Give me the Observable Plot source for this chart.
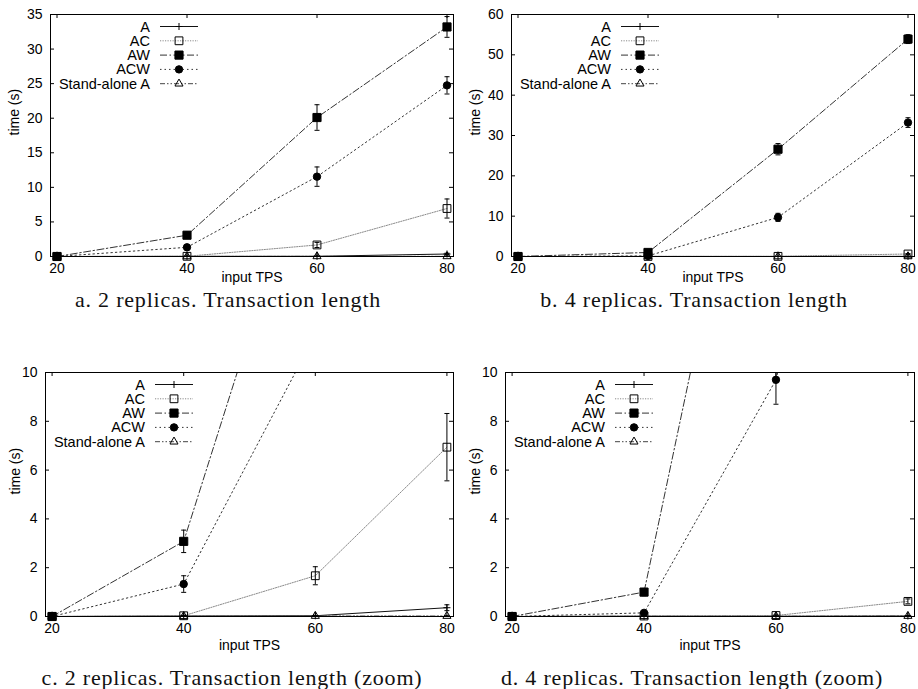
<!DOCTYPE html>
<html>
<head>
<meta charset="utf-8">
<script src="https://cdn.jsdelivr.net/npm/d3@7"></script>
<script src="https://cdn.jsdelivr.net/npm/@observablehq/plot@0.6"></script>
<style>
  body { margin: 0; background: #fff; }
  #fig { position: relative; width: 918px; height: 689px; overflow: hidden; }
  .panel { position: absolute; }
  .caption {
    position: absolute; font-family: "Liberation Serif", "Times New Roman", serif;
    font-size: 22px; line-height: 1; letter-spacing: 0.8px; white-space: nowrap;
    transform: translate(-50%, -50%); color: #111;
  }
</style>
</head>
<body>
<div id="fig"></div>
<script>
// Input load (transactions per second)
const tps = [20, 40, 60, 80];
const seriesNames = ["A", "AC", "AW", "ACW", "Stand-alone A"];

// Response time (s), 2 replicas: means and error half-widths
const rep2_A      = [0, 0.02, 0.03, 0.36];
const rep2_A_err  = [0, 0.01, 0.01, 0.12];
const rep2_AC     = [0, 0.03, 1.67, 6.94];
const rep2_AC_err = [0, 0.02, 0.37, 1.38];
const rep2_AW     = [0, 3.08, 20.1, 33.2];
const rep2_AW_err = [0.02, 0.46, 1.85, 1.5];
const rep2_ACW    = [0, 1.33, 11.55, 24.75];
const rep2_ACW_err = [0.01, 0.34, 1.4, 1.25];
const rep2_SA     = [0, 0.01, 0.02, 0.02];
const rep2_SA_err = [0, 0, 0.01, 0.01];

// Response time (s), 4 replicas
const rep4_A      = [0, 0.01, 0.01, 0.02];
const rep4_A_err  = [0, 0, 0, 0.01];
const rep4_AC     = [0, 0.02, 0.04, 0.62];
const rep4_AC_err = [0, 0.01, 0.02, 0.1];
const rep4_AW     = [0, 1.0, 26.6, 53.9];
const rep4_AW_err = [0.01, 0.15, 1.4, 1.1];
const rep4_ACW    = [0, 0.15, 9.7, 33.2];
const rep4_ACW_err = [0, 0.05, 1.0, 1.2];
const rep4_SA     = [0, 0.01, 0.01, 0.02];
const rep4_SA_err = [0, 0, 0, 0.01];

// Axis ticks
const xTicks = [20, 40, 60, 80];
const yTicks35 = [0, 5, 10, 15, 20, 25, 30, 35];
const yTicks60 = [0, 10, 20, 30, 40, 50, 60];
const yTicks10 = [0, 2, 4, 6, 8, 10];

const captions = [
  "a. 2 replicas. Transaction length",
  "b. 4 replicas. Transaction length",
  "c. 2 replicas. Transaction length (zoom)",
  "d. 4 replicas. Transaction length (zoom)"
];

function rows(means, errs) {
  const out = [];
  seriesNames.forEach((s, i) => {
    tps.forEach((x, j) => out.push({series: s, tps: x, time: means[i][j], err: errs[i][j]}));
  });
  return out;
}
const rep2 = rows([rep2_A, rep2_AC, rep2_AW, rep2_ACW, rep2_SA],
                  [rep2_A_err, rep2_AC_err, rep2_AW_err, rep2_ACW_err, rep2_SA_err]);
const rep4 = rows([rep4_A, rep4_AC, rep4_AW, rep4_ACW, rep4_SA],
                  [rep4_A_err, rep4_AC_err, rep4_AW_err, rep4_ACW_err, rep4_SA_err]);

// Line and point styles for each series
const styles = {
  "A":             {stroke: "#111", dash: null,               symbol: "plus",     fill: "none", r: 2.4},
  "AC":            {stroke: "#8a8a8a", dash: "1.2,1.3",       symbol: "square",   fill: "none", r: 4.4},
  "AW":            {stroke: "#333", dash: "7,2.5,1.5,2.5",    symbol: "square",   fill: "#000", r: 4.6},
  "ACW":           {stroke: "#333", dash: "1.5,3",            symbol: "circle",   fill: "#000", r: 3.7},
  "Stand-alone A": {stroke: "#444", dash: "5,2,1.5,2,1.5,2",  symbol: "triangle", fill: "none", r: 3.0}
};
const d3Symbols = {plus: d3.symbolPlus, square: d3.symbolSquare, circle: d3.symbolCircle, triangle: d3.symbolTriangle};

// Small horizontal bar used as error-bar cap
const capSymbol = {draw(ctx, size) { const h = Math.sqrt(size / Math.PI); ctx.moveTo(-h, 0); ctx.lineTo(h, 0); }};

const panels = [
  {data: rep2, yMax: 35, yTicks: yTicks35, left: 0,   top: 0,   width: 459, height: 290, mt: 14, mb: 34, ml: 50, mr: 6, xlab: 25, ylab: -36, cap: [228, 300]},
  {data: rep4, yMax: 60, yTicks: yTicks60, left: 459, top: 0,   width: 459, height: 290, mt: 14, mb: 34, ml: 52, mr: 4, xlab: 25, ylab: -36, cap: [694, 300]},
  {data: rep2, yMax: 10, yTicks: yTicks10, left: 0,   top: 350, width: 459, height: 310, mt: 22, mb: 44, ml: 45, mr: 6, xlab: 33, ylab: -30, cap: [232, 678]},
  {data: rep4, yMax: 10, yTicks: yTicks10, left: 459, top: 350, width: 459, height: 310, mt: 22, mb: 44, ml: 46, mr: 4, xlab: 33, ylab: -30, cap: [692, 678]}
];

const fig = document.getElementById("fig");
const tickLen = 4;

panels.forEach((p, k) => {
  const pw = p.width - p.ml - p.mr;
  const ph = p.height - p.mt - p.mb;
  const marks = [];

  // series lines, clipped to the frame
  seriesNames.forEach(s => {
    const st = styles[s];
    marks.push(Plot.line(p.data.filter(d => d.series === s), {
      x: "tps", y: "time", stroke: st.stroke, strokeWidth: 1,
      strokeDasharray: st.dash ?? undefined, clip: true
    }));
  });

  // error bars with caps
  const withErr = p.data.filter(d => d.err > 0);
  marks.push(Plot.ruleX(withErr, {x: "tps", y1: d => d.time - d.err, y2: d => d.time + d.err, stroke: "#000", strokeWidth: 1, clip: true}));
  marks.push(Plot.dot(withErr.filter(d => d.time - d.err <= p.yMax), {x: "tps", y: d => d.time - d.err, symbol: capSymbol, r: 2.5, fill: "none", stroke: "#000", strokeWidth: 1}));
  marks.push(Plot.dot(withErr.filter(d => d.time + d.err <= p.yMax), {x: "tps", y: d => d.time + d.err, symbol: capSymbol, r: 2.5, fill: "none", stroke: "#000", strokeWidth: 1}));

  // point markers
  seriesNames.forEach(s => {
    const st = styles[s];
    marks.push(Plot.dot(p.data.filter(d => d.series === s && d.time <= p.yMax), {
      x: "tps", y: "time", symbol: st.symbol, r: st.r,
      fill: st.fill, stroke: "#000", strokeWidth: 1
    }));
  });

  // frame and inward ticks on all four sides
  marks.push(Plot.frame({stroke: "#000", strokeWidth: 1}));
  marks.push(Plot.ruleY(p.yTicks, {y: d => d, insetRight: pw - tickLen, stroke: "#000"}));
  marks.push(Plot.ruleY(p.yTicks, {y: d => d, insetLeft: pw - tickLen, stroke: "#000"}));
  marks.push(Plot.ruleX(xTicks, {x: d => d, insetBottom: ph - tickLen, stroke: "#000"}));
  marks.push(Plot.ruleX(xTicks, {x: d => d, insetTop: ph - tickLen, stroke: "#000"}));

  // tick labels and axis titles
  marks.push(Plot.axisY(p.yTicks, {tickSize: 0, tickPadding: 8, label: null, fontSize: 14}));
  marks.push(Plot.axisX(xTicks, {tickSize: 0, tickPadding: 7, label: null, fontSize: 14}));
  marks.push(Plot.text(["time (s)"], {frameAnchor: "left", rotate: -90, dx: p.ylab, fontSize: 14, fill: "#000"}));
  marks.push(Plot.text(["input TPS"], {frameAnchor: "bottom", dy: p.xlab, fontSize: 14, fill: "#000"}));

  const svg = Plot.plot({
    width: p.width, height: p.height,
    marginTop: p.mt, marginBottom: p.mb, marginLeft: p.ml, marginRight: p.mr,
    style: {fontFamily: "'Liberation Sans', Arial, sans-serif", fontSize: "14px", color: "#000", background: "transparent", overflow: "visible"},
    x: {domain: [19, 81]},
    y: {domain: [0, p.yMax]},
    marks
  });

  // legend in the upper-left corner of the frame
  const g = d3.select(svg).append("g")
    .attr("font-family", "'Liberation Sans', Arial, sans-serif").attr("font-size", 14.5);
  seriesNames.forEach((s, i) => {
    const st = styles[s];
    const y = p.mt + 12.5 + i * 14.3;
    const x0 = p.ml;
    g.append("text").attr("x", x0 + 100).attr("y", y).attr("dy", "0.35em")
      .attr("text-anchor", "end").attr("fill", "#000").text(s);
    g.append("line").attr("x1", x0 + 110).attr("x2", x0 + 148).attr("y1", y).attr("y2", y)
      .attr("stroke", st.stroke).attr("stroke-width", 1)
      .attr("stroke-dasharray", st.dash);
    g.append("path").attr("transform", `translate(${x0 + 129},${y})`)
      .attr("d", d3.symbol(d3Symbols[st.symbol], Math.PI * st.r * st.r)())
      .attr("fill", st.fill).attr("stroke", "#000").attr("stroke-width", 1);
  });

  const wrap = document.createElement("div");
  wrap.className = "panel";
  wrap.style.left = p.left + "px";
  wrap.style.top = p.top + "px";
  wrap.appendChild(svg);
  fig.appendChild(wrap);

  const c = document.createElement("div");
  c.className = "caption";
  c.style.left = p.cap[0] + "px";
  c.style.top = p.cap[1] + "px";
  c.textContent = captions[k];
  fig.appendChild(c);
});
</script>
</body>
</html>
